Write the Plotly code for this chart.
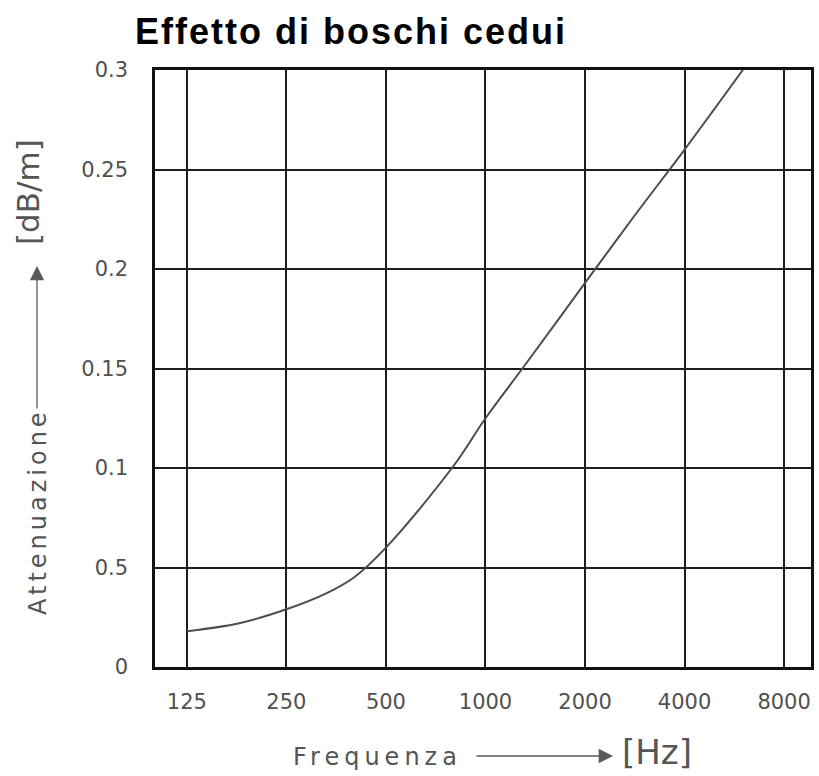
import plotly.graph_objects as go
import math

# Attenuation of coppice woodland vs frequency
frequenza_hz = [125, 180, 250, 330, 400, 500, 800, 1000, 1320, 2000, 2800, 4000, 6000]
attenuazione_db_m = [0.018, 0.022, 0.029, 0.037, 0.045, 0.060, 0.101, 0.125, 0.152, 0.193, 0.226, 0.260, 0.300]

x_tick_vals = [125, 250, 500, 1000, 2000, 4000, 8000]
x_tick_text = ["125", "250", "500", "1000", "2000", "4000", "8000"]
y_tick_vals = [0, 0.05, 0.10, 0.15, 0.20, 0.25, 0.30]
y_tick_text = ["0", "0.5", "0.1", "0.15", "0.2", "0.25", "0.3"]

W, H = 819, 776
L, R, T, B = 155, 8, 70, 109
PW, PH = W - L - R, H - T - B


def px(x):
    return (x - L) / PW


def py(y):
    return (H - B - y) / PH


oct_ = math.log10(2)
x_range = [math.log10(125) - 0.32 * oct_, math.log10(8000) + 0.27 * oct_]

label_font = dict(family="DejaVu Sans", size=21, color="#505050")
title_font_grey = "#555555"

fig = go.Figure()
fig.add_trace(go.Scatter(
    x=frequenza_hz, y=attenuazione_db_m,
    mode="lines",
    line=dict(color="#4d4d4d", width=2, shape="spline", smoothing=1.0),
    hoverinfo="skip", showlegend=False,
))

fig.update_layout(
    width=W, height=H,
    margin=dict(l=L, r=R, t=T, b=B, autoexpand=False),
    paper_bgcolor="white", plot_bgcolor="white",
    title=dict(
        text='<span style="letter-spacing:2px">Effetto di boschi cedui</span>',
        font=dict(family="Liberation Sans, Arial", size=36, color="black", weight="bold"),
        x=135 / W, xanchor="left", xref="container",
        y=1 - 31 / H, yanchor="middle", yref="container",
    ),
    xaxis=dict(
        type="log", range=x_range,
        tickvals=x_tick_vals, ticktext=x_tick_text,
        showgrid=True, gridcolor="#1e1e1e", gridwidth=2,
        showline=True, linecolor="#111111", linewidth=2.5, mirror=True,
        ticks="", ticklabelstandoff=14, tickfont=label_font,
        zeroline=False,
    ),
    yaxis=dict(
        range=[0, 0.3],
        tickvals=y_tick_vals, ticktext=y_tick_text,
        showgrid=True, gridcolor="#1e1e1e", gridwidth=2,
        showline=True, linecolor="#111111", linewidth=2.5, mirror=True,
        ticks="", ticklabelstandoff=20, tickfont=label_font,
        zeroline=False,
    ),
)

ann = []
# vertical axis title with arrow
ann.append(dict(
    text='<span style="letter-spacing:4px">Attenuazione</span>',
    x=px(38), y=py(512), xref="paper", yref="paper",
    textangle=-90, showarrow=False, xanchor="center", yanchor="middle",
    font=dict(family="DejaVu Sans", size=24, color=title_font_grey),
))
ann.append(dict(
    text="", x=px(37), y=py(266), xref="paper", yref="paper",
    ax=0, ay=410 - 266, showarrow=True,
    arrowhead=2, arrowsize=2.2, arrowwidth=1.3, arrowcolor="#5a5a5a",
))
ann.append(dict(
    text="[dB/m]", x=px(28), y=py(192), xref="paper", yref="paper",
    textangle=-90, showarrow=False, xanchor="center", yanchor="middle",
    font=dict(family="DejaVu Sans", size=31, color=title_font_grey),
))
# horizontal axis title with arrow
ann.append(dict(
    text='<span style="letter-spacing:5px">Frequenza</span>',
    x=px(377), y=py(757), xref="paper", yref="paper",
    showarrow=False, xanchor="center", yanchor="middle",
    font=dict(family="DejaVu Sans", size=24, color=title_font_grey),
))
ann.append(dict(
    text="", x=px(613), y=py(756), xref="paper", yref="paper",
    ax=-(613 - 475), ay=0, showarrow=True,
    arrowhead=2, arrowsize=2.2, arrowwidth=1.3, arrowcolor="#5a5a5a",
))
ann.append(dict(
    text="[Hz]", x=px(657), y=py(752), xref="paper", yref="paper",
    showarrow=False, xanchor="center", yanchor="middle",
    font=dict(family="DejaVu Sans", size=34, color=title_font_grey),
))
fig.update_layout(annotations=ann)

fig.write_html("out.html")
